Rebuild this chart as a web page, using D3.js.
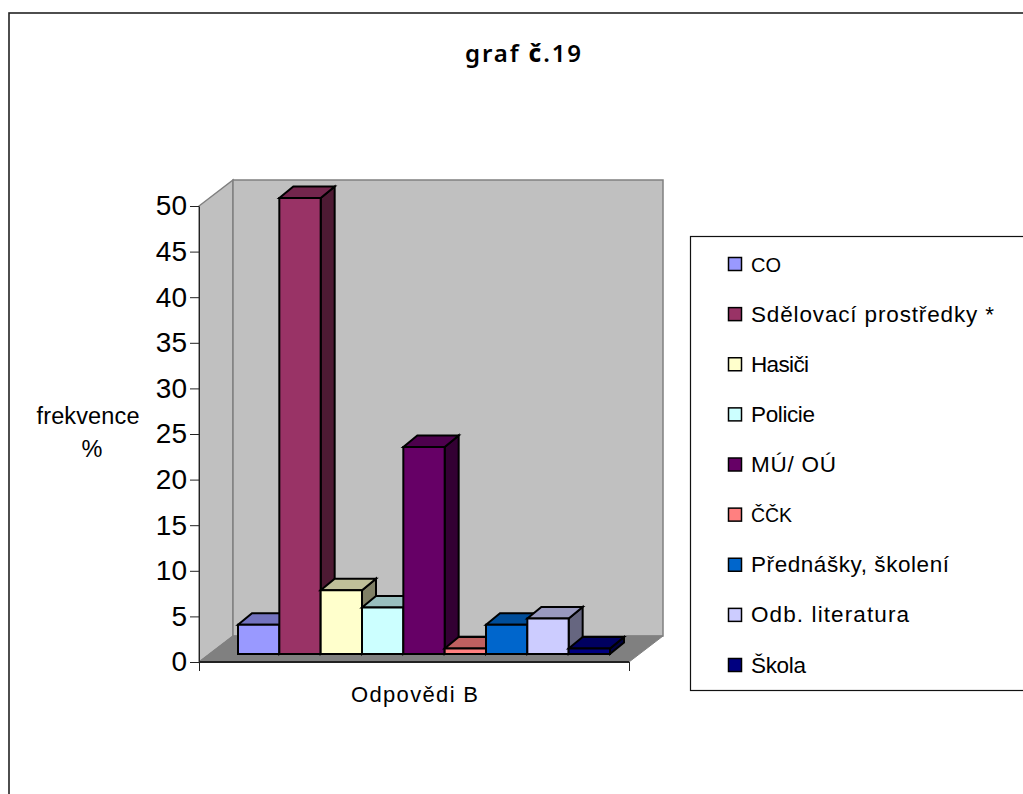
<!DOCTYPE html>
<html><head><meta charset="utf-8">
<script src="https://cdn.jsdelivr.net/npm/d3@7"></script>
<style>html,body{margin:0;padding:0;background:#fff;overflow:hidden}svg{display:block}text{font-family:"Liberation Sans",Arial,sans-serif;fill:#000}</style>
</head><body><svg id="c" width="1023" height="794"></svg>
<script>
const categories=["CO","Sdělovací prostředky *","Hasiči","Policie","MÚ/ OÚ","ČČK","Přednášky, školení","Odb. literatura","Škola"];
const values=[3.2,50,7,5.1,22.7,0.6,3.2,3.9,0.6];
const colors=["#9999ff","#993366","#ffffcc","#ccffff","#660066","#ff8080","#0066cc","#ccccff","#000080"];
const yTicks=[0,5,10,15,20,25,30,35,40,45,50];
const legendTextWidths=[30,243,58,64,85,41,198,158,55];
const legendFontSizes=[20,22.5,22.5,22.5,22.5,19.5,22.5,22.5,22.5];

const svg=d3.select("#c");
const y=d3.scaleLinear().domain([0,50]).range([662,206]);
const x=d3.scaleBand().domain(categories).range([238,610]).padding(0);
const dx=34,dy=26;      // wall depth
const bdx=14,bdy=11.5;  // bar depth
const baseShift=8;
const L=199,R=629,B=y(0),T=y(50);
const poly=(pts,fill,stroke,sw)=>svg.append("path").attr("d",d3.line()(pts)+"Z").attr("fill",fill).attr("stroke",stroke).attr("stroke-width",sw).attr("stroke-linejoin","miter");

// frame
svg.append("rect").attr("x",9).attr("y",13).attr("width",1100).attr("height",900).attr("fill","#fff").attr("stroke","#222").attr("stroke-width",1.6);

// walls
poly([[L,B],[L+dx,B-dy],[L+dx,T-dy],[L,T]],"#c0c0c0","#808080",1.5);
poly([[L+dx,B-dy],[R+dx,B-dy],[R+dx,T-dy],[L+dx,T-dy]],"#c0c0c0","#808080",1.5);
poly([[L,B],[R,B],[R+dx,B-dy],[L+dx,B-dy]],"#808080","#808080",1);

// axis lines
svg.append("line").attr("x1",L).attr("x2",R).attr("y1",B).attr("y2",B).attr("stroke","#222").attr("stroke-width",2);
const yAxis=d3.axisLeft(y).tickValues(yTicks).tickSize(9).tickPadding(3).tickSizeOuter(0);
const ga=svg.append("g").attr("transform",`translate(${L},0)`).call(yAxis);
ga.select(".domain").attr("stroke","#222").attr("stroke-width",1);
ga.selectAll(".tick line").attr("stroke","#222");
ga.selectAll("text").attr("font-size",28).attr("font-family",'"Liberation Sans"').attr("fill","#000");
[L,R].forEach(px=>svg.append("line").attr("x1",px+.5).attr("x2",px+.5).attr("y1",B).attr("y2",B+9).attr("stroke","#222"));

// bars
const base=y(0)-baseShift;
categories.forEach((c,i)=>{
  const x0=x(c),x1=x0+x.bandwidth(),t=y(values[i])-baseShift;
  const col=colors[i];
  const g=d3.rgb(col);
  const top=d3.rgb(g.r*.75,g.g*.75,g.b*.75).formatHex();
  const side=d3.rgb(g.r*.5,g.g*.5,g.b*.5).formatHex();
  poly([[x1,t],[x1+bdx,t-bdy],[x1+bdx,base-bdy],[x1,base]],side,"#000",2);
  poly([[x0,t],[x0+bdx,t-bdy],[x1+bdx,t-bdy],[x1,t]],top,"#000",2);
  poly([[x0,t],[x1,t],[x1,base],[x0,base]],col,"#000",2);
});

// title and axis titles
const title=svg.append("text").attr("x",465).attr("y",62).attr("font-size",24).style("font-family",'"Noto Sans"').attr("font-weight",600).attr("textLength",116).attr("lengthAdjust","spacing");
title.append("tspan").text("graf ");
title.append("tspan").attr("font-weight",800).text("č");
title.append("tspan").text(".19");
svg.append("text").attr("x",351).attr("y",702).attr("font-size",22).attr("textLength",127).attr("lengthAdjust","spacing").text("Odpovědi B");
svg.append("text").attr("x",88).attr("y",424).attr("text-anchor","middle").attr("font-size",23.5).attr("textLength",103).attr("lengthAdjust","spacing").text("frekvence");
svg.append("text").attr("x",92).attr("y",457).attr("text-anchor","middle").attr("font-size",23.5).text("%");

// legend
svg.append("rect").attr("x",690.5).attr("y",236.5).attr("width",400).attr("height",454).attr("fill","#fff").attr("stroke","#111").attr("stroke-width",1.2);
const ly=d3.scalePoint().domain(categories).range([264,665]);
categories.forEach((c,i)=>{
  svg.append("rect").attr("x",728.5).attr("y",ly(c)-6.5).attr("width",13).attr("height",13).attr("fill",colors[i]).attr("stroke","#000").attr("stroke-width",1.5);
  svg.append("text").attr("x",751).attr("y",ly(c)+7.5).attr("font-size",legendFontSizes[i]).attr("textLength",legendTextWidths[i]).attr("lengthAdjust","spacing").text(c);
});
</script></body></html>
